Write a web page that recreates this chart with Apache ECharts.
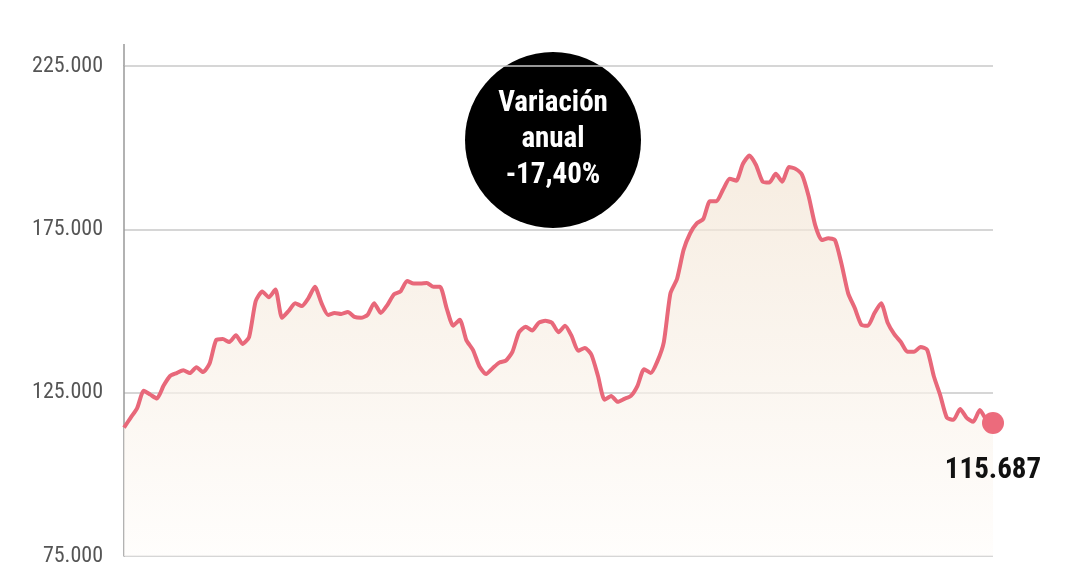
<!DOCTYPE html>
<html><head><meta charset="utf-8">
<script src="https://cdn.jsdelivr.net/npm/echarts@6/dist/echarts.min.js"></script>
<style>html,body{margin:0;padding:0;background:#fff}#c{width:1080px;height:567px}</style>
</head><body><div id="c"></div>
<script>
const values = [114300,117300,120300,125600,124400,123200,127100,130100,131000,131900,131000,132800,131300,133900,141100,141400,140500,142600,139900,142000,153000,156000,154200,156600,147900,150000,152400,151500,153900,157400,152400,148800,149400,149100,149700,148200,147900,148800,152400,149400,151800,155100,156000,159200,158400,158400,158600,157400,157400,150900,145500,147300,141100,138100,133000,130700,132500,134200,134800,137500,143500,145200,144000,146400,147000,146400,143500,145500,142300,137800,138700,136600,130100,122800,124000,122200,123100,124000,127100,132200,131000,134500,140500,155400,159800,168700,173800,176800,178200,183600,183600,187200,190500,189900,195000,197600,194700,189600,189300,192000,189600,194100,193500,191700,185100,176200,171700,172300,171700,164300,155400,150900,145800,145500,149400,152400,146400,142900,140500,137500,137500,139000,138100,130100,124100,117300,116700,120000,117300,116100,119700,116700,115687];
const categories = values.map((v,i)=>i);
const yTicks = [75000,125000,175000,225000];
const lastLabel = '115.687';
const badge = ['Variación','anual','-17,40%'];
const fmt = v => String(v).replace(/\B(?=(\d{3})+(?!\d))/g,'.');
const chart = echarts.init(document.getElementById('c'));
const n = values.length;
const cond = '"Roboto Condensed", "Liberation Sans Narrow", "Open Sans", Roboto, sans-serif';
chart.setOption({
  animation:false,
  grid:{left:124,right:87,top:66,bottom:-3,containLabel:false},
  xAxis:{type:'category',data:categories,boundaryGap:false,show:false},
  yAxis:{type:'value',min:yTicks[0],max:yTicks[yTicks.length-1],interval:50000,
    axisLine:{show:true,lineStyle:{color:'#999',width:1.5}},axisTick:{show:false},
    splitLine:{lineStyle:{color:'#c8c8c8',width:1.5}},
    axisLabel:{formatter:v=>fmt(v),color:'#555',fontSize:22,margin:21,fontFamily:cond}},
  series:[
    {type:'line',data:values,symbol:'none',smooth:0.2,z:2,
     lineStyle:{color:'#e8687a',width:4},
     areaStyle:{color:new echarts.graphic.LinearGradient(0,0,0,1,[{offset:0,color:'#f2e4d3'},{offset:1,color:'#fefcfa'}])}},
    {type:'scatter',data:[[n-1,values[n-1]]],symbolSize:22,z:5,itemStyle:{color:'#ec6b7c',opacity:1},
     label:{show:true,position:'bottom',distance:22,formatter:lastLabel,color:'#111',opacity:1,fontSize:29,fontWeight:'bold',fontFamily:cond}}
  ],
  graphic:[
    {type:'line',shape:{x1:124,y1:44,x2:124,y2:66},style:{stroke:'#999',lineWidth:1.5}},
    {type:'circle',shape:{cx:553,cy:140,r:88},style:{fill:'#000'}},
    {type:'text',x:553,y:140,style:{text:badge.join('\n'),fill:'#fff',font:'bold 29px '+cond,align:'center',verticalAlign:'middle',lineHeight:36}}
  ]
});
</script></body></html>
